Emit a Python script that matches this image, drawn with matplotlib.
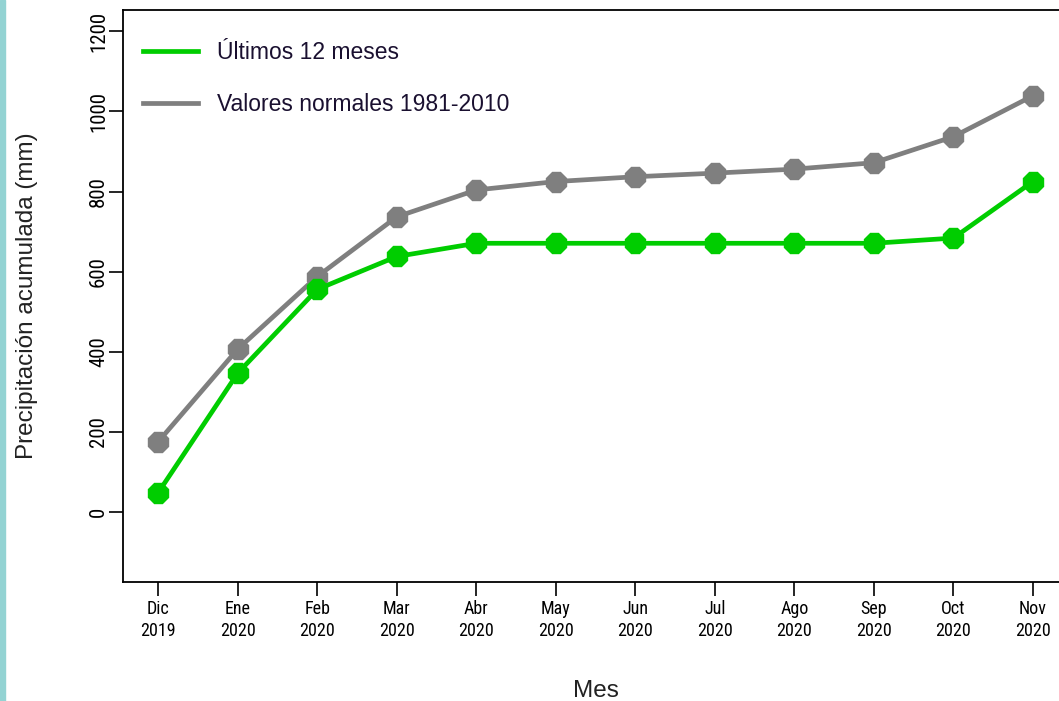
import matplotlib
matplotlib.use("Agg")
import matplotlib.pyplot as plt
from matplotlib.lines import Line2D
from matplotlib.patches import Rectangle

# data
meses = ["Dic", "Ene", "Feb", "Mar", "Abr", "May", "Jun", "Jul", "Ago", "Sep", "Oct", "Nov"]
anios = ["2019"] + ["2020"] * 11
ultimos_12 = [49, 347, 556, 638, 671, 671, 671, 671, 671, 671, 684, 825]
normales = [176, 407, 588, 737, 804, 825, 837, 846, 856, 872, 937, 1039]
y_ticks = [0, 200, 400, 600, 800, 1000, 1200]

verde = "#00CD00"
gris = "#7F7F7F"

plt.rcParams["font.family"] = ["Liberation Sans", "DejaVu Sans"]
narrow = ["Liberation Sans Narrow", "Arial Narrow", "Roboto Condensed",
          "Archivo Narrow", "Barlow Condensed", "Liberation Sans"]

fig = plt.figure(figsize=(10.59, 7.01), dpi=100)
ax = fig.add_axes([0.1164, 0.1693, 0.892, 0.8164])

x = list(range(len(meses)))
ax.plot(x, normales, color=gris, lw=3.4, marker="8", ms=16, zorder=3)
ax.plot(x, ultimos_12, color=verde, lw=3.4, marker="8", ms=16, zorder=4)

ax.set_xlim(-0.44, 11.44)
ax.set_ylim(-175, 1253)
ax.set_yticks(y_ticks)
ax.set_yticklabels([str(v) for v in y_ticks], rotation=90, va="center",
                   fontsize=15, family=narrow)
ax.set_xticks(x)
ax.set_xticklabels([m + "\n" + a for m, a in zip(meses, anios)], fontsize=13,
                   family=narrow, linespacing=1.25)
ax.tick_params(axis="both", direction="out", length=10, width=1.2, color="black")
ax.tick_params(axis="y", pad=1)
ax.tick_params(axis="x", pad=3)

for s in ax.spines.values():
    s.set_linewidth(1.3)

ax.set_ylabel("Precipitación acumulada (mm)", fontsize=17.5, labelpad=37, color="#222222")
ax.set_xlabel("Mes", fontsize=17.5, labelpad=29, color="#222222")

handles = [Line2D([], [], color=verde, lw=3.4),
           Line2D([], [], color=gris, lw=3.4)]
fig.legend(handles, ["Últimos 12 meses", "Valores normales 1981-2010"],
           loc="upper left", bbox_to_anchor=(143 / 1059, 1 - 41 / 701),
           frameon=False, fontsize=16.5, borderpad=0, borderaxespad=0,
           handlelength=2.4, handletextpad=0.83, labelspacing=1.26,
           labelcolor="#1a1030")

# teal strip on the left edge of the screenshot
fig.patches.append(Rectangle((0, 0), 5 / 1059, 1, transform=fig.transFigure,
                             color="#93d3d3", zorder=0))

fig.savefig("out.png", dpi=100)
